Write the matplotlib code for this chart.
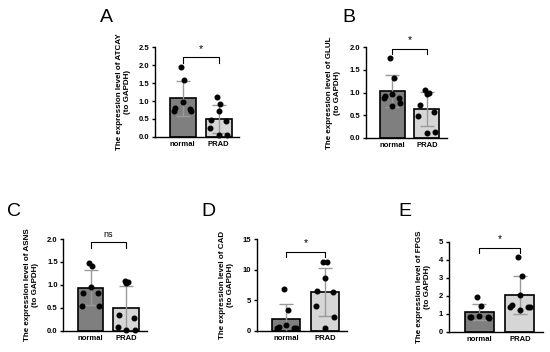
import numpy as np
import matplotlib
matplotlib.use("Agg")
import matplotlib.pyplot as plt

plt.rcParams['font.family'] = ['Liberation Sans', 'DejaVu Sans']

groups = ["normal", "PRAD"]
genes = ["ATCAY", "GLUL", "ASNS", "CAD", "FPGS"]
letters = ["A", "B", "C", "D", "E"]

# individual sample values
atcay_normal = [1.95, 1.58, 0.98, 0.80, 0.78, 0.72, 0.73]
atcay_prad = [1.10, 0.92, 0.72, 0.46, 0.45, 0.25, 0.05, 0.06]
glul_normal = [1.76, 1.33, 0.97, 0.92, 0.87, 0.89, 0.71, 0.76]
glul_prad = [1.06, 0.98, 0.97, 0.73, 0.57, 0.49, 0.13, 0.11]
asns_normal = [1.47, 1.42, 0.95, 0.83, 0.82, 0.55, 0.55]
asns_prad = [1.09, 1.04, 1.07, 0.34, 0.28, 0.09, 0.02, 0.02]
cad_normal = [6.9, 3.4, 1.0, 0.7, 0.5, 0.4, 0.4]
cad_prad = [11.2, 11.2, 8.6, 6.5, 6.3, 4.0, 2.2, 0.5]
fpgs_normal = [1.95, 1.42, 0.90, 0.85, 0.82, 0.85, 0.78]
fpgs_prad = [4.15, 3.10, 2.05, 1.50, 1.40, 1.40, 1.40, 1.20]

sig_labels = ["*", "*", "ns", "*", "*"]
ymax = [2.5, 2.0, 2.0, 15, 5]
ystep = [0.5, 0.5, 0.5, 5, 1]
bracket_y = [2.22, 1.97, 1.93, 12.9, 4.68]

data = [(atcay_normal, atcay_prad), (glul_normal, glul_prad),
        (asns_normal, asns_prad), (cad_normal, cad_prad),
        (fpgs_normal, fpgs_prad)]

# axes boxes [left, bottom, width, height]
boxes = [[0.282, 0.611, 0.153, 0.255],
         [0.665, 0.608, 0.147, 0.258],
         [0.115, 0.060, 0.152, 0.261],
         [0.467, 0.060, 0.164, 0.261],
         [0.816, 0.057, 0.171, 0.256]]
letter_pos = [(0.182, 0.937), (0.623, 0.937), (0.013, 0.386), (0.367, 0.386), (0.724, 0.386)]

bar_colors = ["#7f7f7f", "#d6d6d6"]
jit = [-0.05, 0.05, 0.0, -0.2, 0.2, -0.24, 0.24, 0.0]

fig = plt.figure(figsize=(5.5, 3.52), dpi=100)

for i in range(5):
    ax = fig.add_axes(boxes[i])
    for j, vals in enumerate(data[i]):
        v = np.array(vals)
        m = v.mean()
        sd = v.std(ddof=1)
        ax.bar(j, m, width=0.72, color=bar_colors[j], edgecolor="black",
               linewidth=1.2, zorder=1)
        ax.errorbar(j, m, yerr=sd, color="#9a9a9a", capsize=5, capthick=1,
                    elinewidth=1, zorder=2)
        order = np.argsort(-v)
        xs = [j + jit[k] for k in range(len(v))]
        ax.plot(xs, v[order], "o", color="black", markersize=3.3, zorder=3,
                clip_on=False)
    # significance bracket
    by = bracket_y[i]
    dy = ymax[i] * 0.06
    ax.plot([0, 0, 1, 1], [by - dy, by, by, by - dy], color="black", lw=0.8,
            clip_on=False)
    ax.text(0.5, by + ymax[i] * 0.04, sig_labels[i], ha="center", va="bottom",
            fontsize=6.5 if sig_labels[i] == "ns" else 7.5)
    ax.set_xlim(-0.76, 1.57)
    ax.set_ylim(0, ymax[i])
    ax.set_yticks(np.arange(0, ymax[i] + ystep[i] / 2, ystep[i]))
    if ystep[i] < 1:
        ax.set_yticklabels(["%.1f" % t for t in ax.get_yticks()])
    ax.set_xticks([0, 1])
    ax.set_xticklabels(groups, fontweight="bold", fontsize=5.5)
    ax.tick_params(axis="x", length=0, pad=3)
    ax.tick_params(axis="y", length=2.5, width=1, labelsize=5.5, pad=1.5)
    for lab in ax.get_yticklabels():
        lab.set_fontweight("bold")
    for s in ["top", "right"]:
        ax.spines[s].set_visible(False)
    for s in ["left", "bottom"]:
        ax.spines[s].set_linewidth(1)
    ax.set_ylabel("The expression level of %s\n(to GAPDH)" % genes[i],
                  fontsize=5.8, fontweight="bold", labelpad=6)
    fig.text(letter_pos[i][0], letter_pos[i][1], letters[i], fontsize=14)

fig.savefig("out.png", dpi=100)
